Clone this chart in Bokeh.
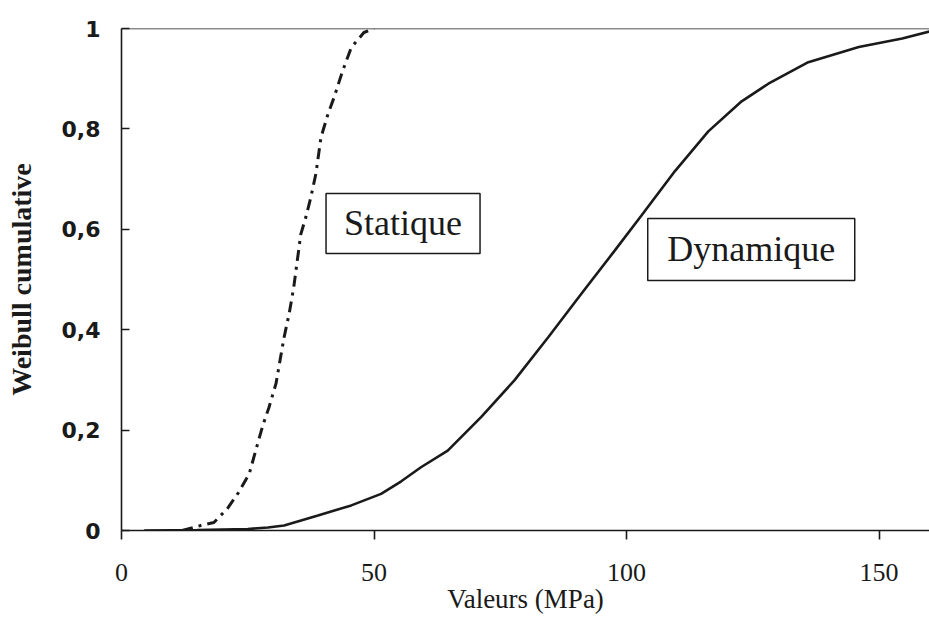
from bokeh.plotting import figure
from bokeh.models import FixedTicker, Span, Range1d
from bokeh.core.properties import value
from bokeh.embed import file_html
from bokeh.resources import INLINE

# --- data ---
stat_x = [12, 15.7, 18.3, 21, 23.2, 25.3, 26.6, 28, 29.2, 30.6, 31.5, 32.2, 33.2,
          34.1, 35.5, 36.5, 37.5, 38.5, 39.5, 40.9, 42.1, 43.8, 45.5, 48, 50]
stat_y = [0, 0.01, 0.016, 0.044, 0.076, 0.113, 0.16, 0.21, 0.245, 0.293, 0.345, 0.385, 0.432,
          0.484, 0.59, 0.624, 0.664, 0.711, 0.783, 0.83, 0.863, 0.916, 0.962, 0.992, 1.0]

dyn_x = [4.5, 15, 25, 29, 32.2, 38.9, 45.5, 51.4, 55.4, 59.3, 64.6, 71.2, 77.8, 84.5,
         91.1, 97.7, 103, 109.6, 116.2, 122.8, 128.1, 136, 146, 154.6, 160]
dyn_y = [0, 0.001, 0.003, 0.006, 0.01, 0.03, 0.05, 0.073, 0.098, 0.126, 0.159, 0.226,
         0.299, 0.385, 0.472, 0.558, 0.628, 0.716, 0.795, 0.855, 0.89, 0.933, 0.963, 0.98, 0.994]

x_ticks = [0, 50, 100, 150]
y_ticks = [0, 0.2, 0.4, 0.6, 0.8, 1]
y_tick_labels = ["0", "0,2", "0,4", "0,6", "0,8", "1"]

x_title = "Valeurs (MPa)"
y_title = "Weibull cumulative"
box_texts = ["Statique", "Dynamique"]

INK = "#1a1a1a"

p = figure(width=929, height=622, output_backend="svg", toolbar_location=None,
           x_range=Range1d(0, 160), y_range=Range1d(0, 1),
           min_border_left=121, min_border_right=0, min_border_top=28, min_border_bottom=92)
p.outline_line_color = None
p.grid.grid_line_color = None
p.background_fill_color = "white"
p.border_fill_color = "white"

for ax in (p.xaxis[0], p.yaxis[0]):
    ax.axis_line_color = INK
    ax.axis_line_width = 1.6
    ax.major_tick_line_color = INK
    ax.major_tick_line_width = 1.6
    ax.minor_tick_line_color = None
    ax.major_label_text_color = INK
    ax.axis_label_text_color = INK
    ax.axis_label_text_font = "Liberation Serif"

p.xaxis.ticker = FixedTicker(ticks=x_ticks)
p.xaxis.major_tick_in = 0
p.xaxis.major_tick_out = 9
p.xaxis.major_label_standoff = 24
p.xaxis.major_label_text_font = "Liberation Serif"
p.xaxis.major_label_text_font_size = "26px"
p.xaxis.axis_label = x_title
p.xaxis.axis_label_standoff = 0
p.xaxis.axis_label_text_font_size = "27px"
p.xaxis.axis_label_text_font_style = "normal"

p.yaxis.ticker = FixedTicker(ticks=y_ticks)
p.yaxis.major_label_overrides = {t: l for t, l in zip(y_ticks, y_tick_labels)}
p.yaxis.major_tick_in = 8
p.yaxis.major_tick_out = 0
p.yaxis.major_label_standoff = 21
p.yaxis.major_label_text_font = "DejaVu Sans"
p.yaxis.major_label_text_font_style = "bold"
p.yaxis.major_label_text_font_size = "22px"
p.yaxis.axis_label = y_title
p.yaxis.axis_label_standoff = 22
p.yaxis.axis_label_text_font_size = "28px"
p.yaxis.axis_label_text_font_style = "bold"

# top border line
p.add_layout(Span(location=1, dimension="width", line_color=INK, line_width=1.6))

# curves
p.line(dyn_x, dyn_y, line_color=INK, line_width=2.6)
p.line(stat_x, stat_y, line_color=INK, line_width=3, line_dash="11 6 3 6")

# labelled boxes (annotation positions)
boxes = [
    dict(x=55.75, y=0.6116, w=154, h=60),
    dict(x=124.7, y=0.5598, w=207, h=62),
]
for b, t in zip(boxes, box_texts):
    p.rect(x=b["x"], y=b["y"], width=b["w"], height=b["h"], width_units="screen",
           height_units="screen", fill_color="white", line_color=INK, line_width=1.5)
    p.text(x=[b["x"]], y=[b["y"]], text=[t], text_align="center", text_baseline="middle",
           text_font=value("Liberation Serif"), text_font_size="36px", text_color=INK)

open("out.html", "w").write(file_html(p, INLINE))
